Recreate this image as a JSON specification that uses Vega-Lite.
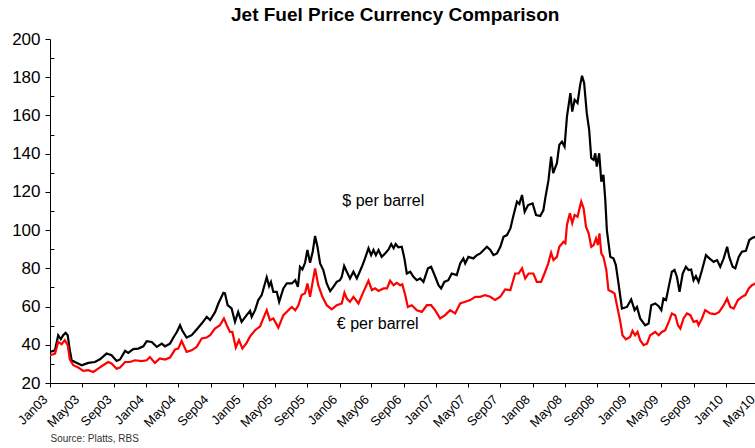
{
  "$schema": "https://vega.github.io/schema/vega-lite/v6.json",
  "autosize": {"type": "none"},
  "padding": {"left": 50, "top": 39, "right": -7, "bottom": 65},
  "width": 712,
  "height": 344,
  "background": "white",
  "config": {"view": {"stroke": null}, "font": "Liberation Sans"},
  "title": {"text": "Jet Fuel Price Currency Comparison", "fontSize": 19, "fontWeight": "bold", "font": "Liberation Sans", "color": "#000000", "frame": "group", "anchor": "start", "dx": 181, "baseline": "alphabetic", "offset": -10},
  "datasets": {
    "fuel": [
      {"series":"$ per barrel","date":"2003-01-01","price":36.3},
      {"series":"$ per barrel","date":"2003-01-20","price":37.1},
      {"series":"$ per barrel","date":"2003-02-01","price":45},
      {"series":"$ per barrel","date":"2003-02-11","price":42.9},
      {"series":"$ per barrel","date":"2003-02-20","price":45},
      {"series":"$ per barrel","date":"2003-03-01","price":46.2},
      {"series":"$ per barrel","date":"2003-03-09","price":45},
      {"series":"$ per barrel","date":"2003-03-17","price":37.1},
      {"series":"$ per barrel","date":"2003-03-24","price":31.9},
      {"series":"$ per barrel","date":"2003-04-05","price":31},
      {"series":"$ per barrel","date":"2003-05-01","price":29.3},
      {"series":"$ per barrel","date":"2003-05-26","price":30.5},
      {"series":"$ per barrel","date":"2003-06-20","price":31},
      {"series":"$ per barrel","date":"2003-07-09","price":32.4},
      {"series":"$ per barrel","date":"2003-08-03","price":35.4},
      {"series":"$ per barrel","date":"2003-08-22","price":34.5},
      {"series":"$ per barrel","date":"2003-09-10","price":31.5},
      {"series":"$ per barrel","date":"2003-09-23","price":32.3},
      {"series":"$ per barrel","date":"2003-10-12","price":36.8},
      {"series":"$ per barrel","date":"2003-10-24","price":35.7},
      {"series":"$ per barrel","date":"2003-11-12","price":37.7},
      {"series":"$ per barrel","date":"2003-12-01","price":38},
      {"series":"$ per barrel","date":"2003-12-20","price":39.2},
      {"series":"$ per barrel","date":"2004-01-02","price":41.9},
      {"series":"$ per barrel","date":"2004-01-21","price":41.5},
      {"series":"$ per barrel","date":"2004-02-09","price":38.9},
      {"series":"$ per barrel","date":"2004-02-28","price":40.6},
      {"series":"$ per barrel","date":"2004-03-11","price":39.2},
      {"series":"$ per barrel","date":"2004-03-30","price":40.6},
      {"series":"$ per barrel","date":"2004-04-12","price":43.8},
      {"series":"$ per barrel","date":"2004-04-25","price":46.7},
      {"series":"$ per barrel","date":"2004-05-07","price":50.2},
      {"series":"$ per barrel","date":"2004-05-15","price":47.6},
      {"series":"$ per barrel","date":"2004-06-01","price":43.8},
      {"series":"$ per barrel","date":"2004-06-20","price":45},
      {"series":"$ per barrel","date":"2004-07-09","price":48},
      {"series":"$ per barrel","date":"2004-07-28","price":51.1},
      {"series":"$ per barrel","date":"2004-08-16","price":54.6},
      {"series":"$ per barrel","date":"2004-08-29","price":52.9},
      {"series":"$ per barrel","date":"2004-09-17","price":57.2},
      {"series":"$ per barrel","date":"2004-09-29","price":61.6},
      {"series":"$ per barrel","date":"2004-10-18","price":67.2},
      {"series":"$ per barrel","date":"2004-10-24","price":66.9},
      {"series":"$ per barrel","date":"2004-11-03","price":60.7},
      {"series":"$ per barrel","date":"2004-11-18","price":59},
      {"series":"$ per barrel","date":"2004-12-01","price":52},
      {"series":"$ per barrel","date":"2004-12-13","price":57.2},
      {"series":"$ per barrel","date":"2004-12-26","price":52},
      {"series":"$ per barrel","date":"2005-01-14","price":55.5},
      {"series":"$ per barrel","date":"2005-01-27","price":57.7},
      {"series":"$ per barrel","date":"2005-02-02","price":54.6},
      {"series":"$ per barrel","date":"2005-02-15","price":58.1},
      {"series":"$ per barrel","date":"2005-02-27","price":63.4},
      {"series":"$ per barrel","date":"2005-03-12","price":66},
      {"series":"$ per barrel","date":"2005-03-31","price":75.3},
      {"series":"$ per barrel","date":"2005-04-09","price":70.7},
      {"series":"$ per barrel","date":"2005-04-16","price":72.9},
      {"series":"$ per barrel","date":"2005-04-25","price":67.7},
      {"series":"$ per barrel","date":"2005-05-08","price":67.7},
      {"series":"$ per barrel","date":"2005-05-17","price":62.5},
      {"series":"$ per barrel","date":"2005-06-02","price":69.5},
      {"series":"$ per barrel","date":"2005-06-15","price":72.1},
      {"series":"$ per barrel","date":"2005-07-04","price":72.1},
      {"series":"$ per barrel","date":"2005-07-17","price":73.8},
      {"series":"$ per barrel","date":"2005-07-27","price":70.3},
      {"series":"$ per barrel","date":"2005-08-04","price":80.8},
      {"series":"$ per barrel","date":"2005-08-13","price":79.4},
      {"series":"$ per barrel","date":"2005-08-23","price":82.9},
      {"series":"$ per barrel","date":"2005-09-01","price":89.6},
      {"series":"$ per barrel","date":"2005-09-11","price":82.9},
      {"series":"$ per barrel","date":"2005-09-21","price":88.7},
      {"series":"$ per barrel","date":"2005-09-30","price":96.9},
      {"series":"$ per barrel","date":"2005-10-09","price":91.3},
      {"series":"$ per barrel","date":"2005-10-19","price":82.6},
      {"series":"$ per barrel","date":"2005-10-31","price":79.1},
      {"series":"$ per barrel","date":"2005-11-13","price":72.1},
      {"series":"$ per barrel","date":"2005-11-26","price":68.1},
      {"series":"$ per barrel","date":"2005-12-08","price":70.3},
      {"series":"$ per barrel","date":"2005-12-21","price":72.9},
      {"series":"$ per barrel","date":"2006-01-02","price":73.8},
      {"series":"$ per barrel","date":"2006-01-09","price":75.6},
      {"series":"$ per barrel","date":"2006-01-18","price":81.2},
      {"series":"$ per barrel","date":"2006-01-28","price":78.2},
      {"series":"$ per barrel","date":"2006-02-09","price":74.7},
      {"series":"$ per barrel","date":"2006-02-22","price":78.2},
      {"series":"$ per barrel","date":"2006-03-07","price":74.7},
      {"series":"$ per barrel","date":"2006-03-26","price":80.8},
      {"series":"$ per barrel","date":"2006-04-07","price":85.2},
      {"series":"$ per barrel","date":"2006-04-20","price":90.5},
      {"series":"$ per barrel","date":"2006-04-30","price":86.9},
      {"series":"$ per barrel","date":"2006-05-09","price":89.6},
      {"series":"$ per barrel","date":"2006-05-18","price":86.9},
      {"series":"$ per barrel","date":"2006-05-28","price":89.6},
      {"series":"$ per barrel","date":"2006-06-09","price":86},
      {"series":"$ per barrel","date":"2006-06-22","price":87.8},
      {"series":"$ per barrel","date":"2006-07-05","price":89.9},
      {"series":"$ per barrel","date":"2006-07-15","price":92.7},
      {"series":"$ per barrel","date":"2006-07-24","price":90.5},
      {"series":"$ per barrel","date":"2006-08-01","price":92.7},
      {"series":"$ per barrel","date":"2006-08-11","price":91},
      {"series":"$ per barrel","date":"2006-08-24","price":91.3},
      {"series":"$ per barrel","date":"2006-09-03","price":85.2},
      {"series":"$ per barrel","date":"2006-09-12","price":77.3},
      {"series":"$ per barrel","date":"2006-09-25","price":78.2},
      {"series":"$ per barrel","date":"2006-10-07","price":75.6},
      {"series":"$ per barrel","date":"2006-10-20","price":73.8},
      {"series":"$ per barrel","date":"2006-11-02","price":74.7},
      {"series":"$ per barrel","date":"2006-11-14","price":72.9},
      {"series":"$ per barrel","date":"2006-12-01","price":80},
      {"series":"$ per barrel","date":"2006-12-13","price":80.8},
      {"series":"$ per barrel","date":"2006-12-26","price":76.5},
      {"series":"$ per barrel","date":"2007-01-10","price":71.2},
      {"series":"$ per barrel","date":"2007-01-20","price":69.5},
      {"series":"$ per barrel","date":"2007-02-01","price":72.9},
      {"series":"$ per barrel","date":"2007-02-16","price":73.8},
      {"series":"$ per barrel","date":"2007-03-01","price":77.3},
      {"series":"$ per barrel","date":"2007-03-20","price":76.5},
      {"series":"$ per barrel","date":"2007-04-02","price":82.6},
      {"series":"$ per barrel","date":"2007-04-14","price":85.2},
      {"series":"$ per barrel","date":"2007-04-21","price":82.6},
      {"series":"$ per barrel","date":"2007-05-03","price":86},
      {"series":"$ per barrel","date":"2007-05-22","price":85.2},
      {"series":"$ per barrel","date":"2007-06-04","price":86.9},
      {"series":"$ per barrel","date":"2007-06-17","price":87.8},
      {"series":"$ per barrel","date":"2007-06-30","price":89.6},
      {"series":"$ per barrel","date":"2007-07-12","price":91.3},
      {"series":"$ per barrel","date":"2007-07-25","price":89.6},
      {"series":"$ per barrel","date":"2007-08-06","price":86.9},
      {"series":"$ per barrel","date":"2007-08-19","price":87.8},
      {"series":"$ per barrel","date":"2007-09-01","price":91.3},
      {"series":"$ per barrel","date":"2007-09-13","price":96.5},
      {"series":"$ per barrel","date":"2007-09-26","price":97.4},
      {"series":"$ per barrel","date":"2007-10-09","price":100.9},
      {"series":"$ per barrel","date":"2007-10-21","price":107.9},
      {"series":"$ per barrel","date":"2007-11-03","price":114.9},
      {"series":"$ per barrel","date":"2007-11-12","price":113.7},
      {"series":"$ per barrel","date":"2007-11-22","price":118.4},
      {"series":"$ per barrel","date":"2007-12-02","price":109.6},
      {"series":"$ per barrel","date":"2007-12-15","price":113.1},
      {"series":"$ per barrel","date":"2008-01-01","price":114},
      {"series":"$ per barrel","date":"2008-01-14","price":107.9},
      {"series":"$ per barrel","date":"2008-01-30","price":107.4},
      {"series":"$ per barrel","date":"2008-02-11","price":110.5},
      {"series":"$ per barrel","date":"2008-02-18","price":116.7},
      {"series":"$ per barrel","date":"2008-03-01","price":126},
      {"series":"$ per barrel","date":"2008-03-11","price":138.5},
      {"series":"$ per barrel","date":"2008-03-19","price":129.8},
      {"series":"$ per barrel","date":"2008-04-02","price":135},
      {"series":"$ per barrel","date":"2008-04-11","price":144.6},
      {"series":"$ per barrel","date":"2008-04-21","price":146.3},
      {"series":"$ per barrel","date":"2008-05-01","price":143.7},
      {"series":"$ per barrel","date":"2008-05-10","price":159.4},
      {"series":"$ per barrel","date":"2008-05-23","price":171.7},
      {"series":"$ per barrel","date":"2008-05-30","price":162},
      {"series":"$ per barrel","date":"2008-06-08","price":168.2},
      {"series":"$ per barrel","date":"2008-06-19","price":166.5},
      {"series":"$ per barrel","date":"2008-06-29","price":176},
      {"series":"$ per barrel","date":"2008-07-06","price":180.8},
      {"series":"$ per barrel","date":"2008-07-14","price":177},
      {"series":"$ per barrel","date":"2008-07-24","price":161.2},
      {"series":"$ per barrel","date":"2008-08-02","price":152.5},
      {"series":"$ per barrel","date":"2008-08-10","price":137.6},
      {"series":"$ per barrel","date":"2008-08-19","price":136.7},
      {"series":"$ per barrel","date":"2008-08-25","price":140.2},
      {"series":"$ per barrel","date":"2008-08-31","price":133.2},
      {"series":"$ per barrel","date":"2008-09-09","price":140.2},
      {"series":"$ per barrel","date":"2008-09-17","price":125.4},
      {"series":"$ per barrel","date":"2008-09-25","price":128.9},
      {"series":"$ per barrel","date":"2008-10-02","price":115.8},
      {"series":"$ per barrel","date":"2008-10-08","price":100},
      {"series":"$ per barrel","date":"2008-10-21","price":86},
      {"series":"$ per barrel","date":"2008-11-02","price":85.2},
      {"series":"$ per barrel","date":"2008-11-11","price":81.7},
      {"series":"$ per barrel","date":"2008-11-21","price":72.1},
      {"series":"$ per barrel","date":"2008-12-04","price":59},
      {"series":"$ per barrel","date":"2008-12-23","price":59.8},
      {"series":"$ per barrel","date":"2009-01-08","price":63.7},
      {"series":"$ per barrel","date":"2009-01-21","price":58.1},
      {"series":"$ per barrel","date":"2009-01-30","price":59.8},
      {"series":"$ per barrel","date":"2009-02-11","price":53.8},
      {"series":"$ per barrel","date":"2009-03-02","price":50.2},
      {"series":"$ per barrel","date":"2009-03-15","price":51.1},
      {"series":"$ per barrel","date":"2009-03-25","price":60.7},
      {"series":"$ per barrel","date":"2009-04-09","price":61.6},
      {"series":"$ per barrel","date":"2009-04-22","price":60.2},
      {"series":"$ per barrel","date":"2009-05-02","price":58.1},
      {"series":"$ per barrel","date":"2009-05-10","price":64.2},
      {"series":"$ per barrel","date":"2009-05-20","price":63.4},
      {"series":"$ per barrel","date":"2009-05-30","price":70.3},
      {"series":"$ per barrel","date":"2009-06-11","price":78.2},
      {"series":"$ per barrel","date":"2009-06-21","price":79.1},
      {"series":"$ per barrel","date":"2009-06-30","price":75.6},
      {"series":"$ per barrel","date":"2009-07-10","price":67.7},
      {"series":"$ per barrel","date":"2009-07-22","price":77.3},
      {"series":"$ per barrel","date":"2009-08-03","price":80.8},
      {"series":"$ per barrel","date":"2009-08-13","price":79.1},
      {"series":"$ per barrel","date":"2009-08-23","price":79.4},
      {"series":"$ per barrel","date":"2009-09-01","price":73.8},
      {"series":"$ per barrel","date":"2009-09-10","price":75.9},
      {"series":"$ per barrel","date":"2009-09-20","price":72.9},
      {"series":"$ per barrel","date":"2009-10-03","price":79.1},
      {"series":"$ per barrel","date":"2009-10-18","price":86.9},
      {"series":"$ per barrel","date":"2009-10-31","price":85.2},
      {"series":"$ per barrel","date":"2009-11-16","price":83.4},
      {"series":"$ per barrel","date":"2009-11-29","price":84.3},
      {"series":"$ per barrel","date":"2009-12-11","price":80.8},
      {"series":"$ per barrel","date":"2009-12-24","price":85.2},
      {"series":"$ per barrel","date":"2010-01-06","price":91.3},
      {"series":"$ per barrel","date":"2010-01-14","price":86},
      {"series":"$ per barrel","date":"2010-01-27","price":80.8},
      {"series":"$ per barrel","date":"2010-02-06","price":80},
      {"series":"$ per barrel","date":"2010-02-19","price":86},
      {"series":"$ per barrel","date":"2010-03-03","price":88.7},
      {"series":"$ per barrel","date":"2010-03-18","price":89.2},
      {"series":"$ per barrel","date":"2010-03-31","price":94.8},
      {"series":"$ per barrel","date":"2010-04-12","price":96},
      {"series":"$ per barrel","date":"2010-04-24","price":96.5},
      {"series":"€ per barrel","date":"2003-01-01","price":34.5},
      {"series":"€ per barrel","date":"2003-01-20","price":35.4},
      {"series":"€ per barrel","date":"2003-02-01","price":41.5},
      {"series":"€ per barrel","date":"2003-02-14","price":40.3},
      {"series":"€ per barrel","date":"2003-02-26","price":42.4},
      {"series":"€ per barrel","date":"2003-03-09","price":39.8},
      {"series":"€ per barrel","date":"2003-03-17","price":32.3},
      {"series":"€ per barrel","date":"2003-03-30","price":29.3},
      {"series":"€ per barrel","date":"2003-04-18","price":28.1},
      {"series":"€ per barrel","date":"2003-05-07","price":26.3},
      {"series":"€ per barrel","date":"2003-05-26","price":26.7},
      {"series":"€ per barrel","date":"2003-06-14","price":25.8},
      {"series":"€ per barrel","date":"2003-07-02","price":27.5},
      {"series":"€ per barrel","date":"2003-07-21","price":29.3},
      {"series":"€ per barrel","date":"2003-08-09","price":31},
      {"series":"€ per barrel","date":"2003-08-22","price":30.2},
      {"series":"€ per barrel","date":"2003-09-10","price":27.5},
      {"series":"€ per barrel","date":"2003-09-23","price":28.1},
      {"series":"€ per barrel","date":"2003-10-12","price":31},
      {"series":"€ per barrel","date":"2003-10-31","price":31},
      {"series":"€ per barrel","date":"2003-11-18","price":31.9},
      {"series":"€ per barrel","date":"2003-12-14","price":31.5},
      {"series":"€ per barrel","date":"2004-01-02","price":31.9},
      {"series":"€ per barrel","date":"2004-01-14","price":33.6},
      {"series":"€ per barrel","date":"2004-02-02","price":30.5},
      {"series":"€ per barrel","date":"2004-02-21","price":32.8},
      {"series":"€ per barrel","date":"2004-03-11","price":32.3},
      {"series":"€ per barrel","date":"2004-03-30","price":33.3},
      {"series":"€ per barrel","date":"2004-04-18","price":37.5},
      {"series":"€ per barrel","date":"2004-04-30","price":38},
      {"series":"€ per barrel","date":"2004-05-13","price":42},
      {"series":"€ per barrel","date":"2004-06-01","price":36.3},
      {"series":"€ per barrel","date":"2004-06-20","price":37.1},
      {"series":"€ per barrel","date":"2004-07-09","price":38.9},
      {"series":"€ per barrel","date":"2004-07-28","price":43.3},
      {"series":"€ per barrel","date":"2004-08-16","price":43.8},
      {"series":"€ per barrel","date":"2004-08-29","price":45},
      {"series":"€ per barrel","date":"2004-09-16","price":48.5},
      {"series":"€ per barrel","date":"2004-10-05","price":50.2},
      {"series":"€ per barrel","date":"2004-10-20","price":53.8},
      {"series":"€ per barrel","date":"2004-10-31","price":50.2},
      {"series":"€ per barrel","date":"2004-11-12","price":46.7},
      {"series":"€ per barrel","date":"2004-11-21","price":46.7},
      {"series":"€ per barrel","date":"2004-12-04","price":38.6},
      {"series":"€ per barrel","date":"2004-12-16","price":42.4},
      {"series":"€ per barrel","date":"2004-12-29","price":38},
      {"series":"€ per barrel","date":"2005-01-14","price":41},
      {"series":"€ per barrel","date":"2005-01-27","price":44.4},
      {"series":"€ per barrel","date":"2005-02-15","price":47.6},
      {"series":"€ per barrel","date":"2005-03-06","price":49.7},
      {"series":"€ per barrel","date":"2005-03-18","price":53.8},
      {"series":"€ per barrel","date":"2005-03-31","price":58.1},
      {"series":"€ per barrel","date":"2005-04-12","price":52.9},
      {"series":"€ per barrel","date":"2005-04-25","price":53.8},
      {"series":"€ per barrel","date":"2005-05-14","price":49},
      {"series":"€ per barrel","date":"2005-06-02","price":55.5},
      {"series":"€ per barrel","date":"2005-06-21","price":58.1},
      {"series":"€ per barrel","date":"2005-07-04","price":59.8},
      {"series":"€ per barrel","date":"2005-07-17","price":58.1},
      {"series":"€ per barrel","date":"2005-07-29","price":60.7},
      {"series":"€ per barrel","date":"2005-08-10","price":66},
      {"series":"€ per barrel","date":"2005-08-23","price":66.9},
      {"series":"€ per barrel","date":"2005-09-01","price":72.1},
      {"series":"€ per barrel","date":"2005-09-11","price":65.1},
      {"series":"€ per barrel","date":"2005-09-30","price":80},
      {"series":"€ per barrel","date":"2005-10-12","price":71.2},
      {"series":"€ per barrel","date":"2005-10-27","price":65.4},
      {"series":"€ per barrel","date":"2005-11-13","price":60.7},
      {"series":"€ per barrel","date":"2005-12-02","price":58.5},
      {"series":"€ per barrel","date":"2005-12-21","price":60.7},
      {"series":"€ per barrel","date":"2006-01-09","price":61.6},
      {"series":"€ per barrel","date":"2006-01-19","price":67.2},
      {"series":"€ per barrel","date":"2006-01-28","price":64.2},
      {"series":"€ per barrel","date":"2006-02-09","price":62.5},
      {"series":"€ per barrel","date":"2006-02-22","price":65.1},
      {"series":"€ per barrel","date":"2006-03-13","price":61.6},
      {"series":"€ per barrel","date":"2006-04-01","price":67.7},
      {"series":"€ per barrel","date":"2006-04-20","price":73.5},
      {"series":"€ per barrel","date":"2006-05-03","price":68.6},
      {"series":"€ per barrel","date":"2006-05-15","price":69.5},
      {"series":"€ per barrel","date":"2006-05-28","price":68.2},
      {"series":"€ per barrel","date":"2006-06-16","price":69.5},
      {"series":"€ per barrel","date":"2006-06-29","price":69.5},
      {"series":"€ per barrel","date":"2006-07-11","price":73.5},
      {"series":"€ per barrel","date":"2006-07-24","price":71.2},
      {"series":"€ per barrel","date":"2006-08-05","price":72.4},
      {"series":"€ per barrel","date":"2006-08-18","price":71.2},
      {"series":"€ per barrel","date":"2006-08-26","price":71.7},
      {"series":"€ per barrel","date":"2006-09-06","price":66},
      {"series":"€ per barrel","date":"2006-09-16","price":59.8},
      {"series":"€ per barrel","date":"2006-10-01","price":60.7},
      {"series":"€ per barrel","date":"2006-10-20","price":58.1},
      {"series":"€ per barrel","date":"2006-11-08","price":57.2},
      {"series":"€ per barrel","date":"2006-11-27","price":60.7},
      {"series":"€ per barrel","date":"2006-12-13","price":60.7},
      {"series":"€ per barrel","date":"2006-12-28","price":58.1},
      {"series":"€ per barrel","date":"2007-01-16","price":53.8},
      {"series":"€ per barrel","date":"2007-02-04","price":55.5},
      {"series":"€ per barrel","date":"2007-02-23","price":58.1},
      {"series":"€ per barrel","date":"2007-03-14","price":56.4},
      {"series":"€ per barrel","date":"2007-04-02","price":61.6},
      {"series":"€ per barrel","date":"2007-04-21","price":62.5},
      {"series":"€ per barrel","date":"2007-05-10","price":63.4},
      {"series":"€ per barrel","date":"2007-05-29","price":65.1},
      {"series":"€ per barrel","date":"2007-06-17","price":65.1},
      {"series":"€ per barrel","date":"2007-07-05","price":66},
      {"series":"€ per barrel","date":"2007-07-25","price":65.1},
      {"series":"€ per barrel","date":"2007-08-12","price":63.4},
      {"series":"€ per barrel","date":"2007-09-01","price":65.1},
      {"series":"€ per barrel","date":"2007-09-19","price":69},
      {"series":"€ per barrel","date":"2007-10-09","price":68.6},
      {"series":"€ per barrel","date":"2007-10-27","price":77.3},
      {"series":"€ per barrel","date":"2007-11-09","price":77.3},
      {"series":"€ per barrel","date":"2007-11-22","price":80},
      {"series":"€ per barrel","date":"2007-12-04","price":74.7},
      {"series":"€ per barrel","date":"2007-12-17","price":77.3},
      {"series":"€ per barrel","date":"2008-01-04","price":77.3},
      {"series":"€ per barrel","date":"2008-01-17","price":72.9},
      {"series":"€ per barrel","date":"2008-02-02","price":72.9},
      {"series":"€ per barrel","date":"2008-02-15","price":77.3},
      {"series":"€ per barrel","date":"2008-02-29","price":82.5},
      {"series":"€ per barrel","date":"2008-03-11","price":88.2},
      {"series":"€ per barrel","date":"2008-03-20","price":84.3},
      {"series":"€ per barrel","date":"2008-04-02","price":86},
      {"series":"€ per barrel","date":"2008-04-11","price":91.3},
      {"series":"€ per barrel","date":"2008-04-27","price":93.9},
      {"series":"€ per barrel","date":"2008-05-04","price":93.1},
      {"series":"€ per barrel","date":"2008-05-10","price":102.7},
      {"series":"€ per barrel","date":"2008-05-21","price":108.8},
      {"series":"€ per barrel","date":"2008-05-30","price":103.6},
      {"series":"€ per barrel","date":"2008-06-08","price":107.9},
      {"series":"€ per barrel","date":"2008-06-19","price":107},
      {"series":"€ per barrel","date":"2008-06-25","price":110.5},
      {"series":"€ per barrel","date":"2008-07-03","price":114.9},
      {"series":"€ per barrel","date":"2008-07-12","price":111.4},
      {"series":"€ per barrel","date":"2008-07-21","price":101.8},
      {"series":"€ per barrel","date":"2008-07-31","price":98.3},
      {"series":"€ per barrel","date":"2008-08-10","price":91.3},
      {"series":"€ per barrel","date":"2008-08-19","price":92.2},
      {"series":"€ per barrel","date":"2008-08-28","price":95.7},
      {"series":"€ per barrel","date":"2008-09-04","price":92.2},
      {"series":"€ per barrel","date":"2008-09-10","price":98.3},
      {"series":"€ per barrel","date":"2008-09-17","price":87.8},
      {"series":"€ per barrel","date":"2008-09-25","price":86},
      {"series":"€ per barrel","date":"2008-10-06","price":79.1},
      {"series":"€ per barrel","date":"2008-10-14","price":68.6},
      {"series":"€ per barrel","date":"2008-10-27","price":67.7},
      {"series":"€ per barrel","date":"2008-11-06","price":66.9},
      {"series":"€ per barrel","date":"2008-11-19","price":58.1},
      {"series":"€ per barrel","date":"2008-11-28","price":52},
      {"series":"€ per barrel","date":"2008-12-06","price":45},
      {"series":"€ per barrel","date":"2008-12-19","price":42.8},
      {"series":"€ per barrel","date":"2009-01-04","price":44.1},
      {"series":"€ per barrel","date":"2009-01-13","price":47.3},
      {"series":"€ per barrel","date":"2009-01-23","price":45},
      {"series":"€ per barrel","date":"2009-02-01","price":46.7},
      {"series":"€ per barrel","date":"2009-02-11","price":42.4},
      {"series":"€ per barrel","date":"2009-02-24","price":39.8},
      {"series":"€ per barrel","date":"2009-03-09","price":40.6},
      {"series":"€ per barrel","date":"2009-03-21","price":45},
      {"series":"€ per barrel","date":"2009-04-09","price":46.7},
      {"series":"€ per barrel","date":"2009-04-22","price":45},
      {"series":"€ per barrel","date":"2009-05-04","price":46.7},
      {"series":"€ per barrel","date":"2009-05-17","price":47.6},
      {"series":"€ per barrel","date":"2009-05-30","price":52},
      {"series":"€ per barrel","date":"2009-06-11","price":56.4},
      {"series":"€ per barrel","date":"2009-06-24","price":55.5},
      {"series":"€ per barrel","date":"2009-07-04","price":50.2},
      {"series":"€ per barrel","date":"2009-07-13","price":48.5},
      {"series":"€ per barrel","date":"2009-07-25","price":53.8},
      {"series":"€ per barrel","date":"2009-08-07","price":56.4},
      {"series":"€ per barrel","date":"2009-08-20","price":55.5},
      {"series":"€ per barrel","date":"2009-09-01","price":52},
      {"series":"€ per barrel","date":"2009-09-14","price":52.5},
      {"series":"€ per barrel","date":"2009-09-20","price":50.2},
      {"series":"€ per barrel","date":"2009-10-03","price":53.8},
      {"series":"€ per barrel","date":"2009-10-15","price":58.1},
      {"series":"€ per barrel","date":"2009-11-03","price":56.4},
      {"series":"€ per barrel","date":"2009-11-22","price":56},
      {"series":"€ per barrel","date":"2009-12-07","price":57.2},
      {"series":"€ per barrel","date":"2009-12-24","price":60.7},
      {"series":"€ per barrel","date":"2010-01-06","price":64.2},
      {"series":"€ per barrel","date":"2010-01-18","price":59.8},
      {"series":"€ per barrel","date":"2010-01-31","price":59},
      {"series":"€ per barrel","date":"2010-02-16","price":63.4},
      {"series":"€ per barrel","date":"2010-03-03","price":65.1},
      {"series":"€ per barrel","date":"2010-03-16","price":66},
      {"series":"€ per barrel","date":"2010-03-29","price":69.5},
      {"series":"€ per barrel","date":"2010-04-10","price":71.2},
      {"series":"€ per barrel","date":"2010-04-24","price":72.1}
    ],
    "notes": [
      {"label": "$ per barrel", "date": "2006-06-15", "price": 115.4},
      {"label": "€ per barrel", "date": "2006-05-25", "price": 50.8}
    ]
  },
  "layer": [
    {
      "data": {"name": "fuel"},
      "mark": {"type": "line", "strokeWidth": 2.2, "clip": true},
      "encoding": {
        "x": {
          "field": "date", "type": "temporal",
          "scale": {"type": "utc", "domain": [{"year": 2003, "month": 1, "date": 1, "utc": true}, {"year": 2010, "month": 5, "date": 18, "utc": true}], "nice": false},
          "axis": {
            "values": [
              {"year": 2003, "month": 1, "date": 1, "utc": true}, {"year": 2003, "month": 5, "date": 1, "utc": true}, {"year": 2003, "month": 9, "date": 1, "utc": true},
              {"year": 2004, "month": 1, "date": 1, "utc": true}, {"year": 2004, "month": 5, "date": 1, "utc": true}, {"year": 2004, "month": 9, "date": 1, "utc": true},
              {"year": 2005, "month": 1, "date": 1, "utc": true}, {"year": 2005, "month": 5, "date": 1, "utc": true}, {"year": 2005, "month": 9, "date": 1, "utc": true},
              {"year": 2006, "month": 1, "date": 1, "utc": true}, {"year": 2006, "month": 5, "date": 1, "utc": true}, {"year": 2006, "month": 9, "date": 1, "utc": true},
              {"year": 2007, "month": 1, "date": 1, "utc": true}, {"year": 2007, "month": 5, "date": 1, "utc": true}, {"year": 2007, "month": 9, "date": 1, "utc": true},
              {"year": 2008, "month": 1, "date": 1, "utc": true}, {"year": 2008, "month": 5, "date": 1, "utc": true}, {"year": 2008, "month": 9, "date": 1, "utc": true},
              {"year": 2009, "month": 1, "date": 1, "utc": true}, {"year": 2009, "month": 5, "date": 1, "utc": true}, {"year": 2009, "month": 9, "date": 1, "utc": true},
              {"year": 2010, "month": 1, "date": 1, "utc": true}, {"year": 2010, "month": 5, "date": 1, "utc": true}
            ],
            "labelExpr": "utcFormat(datum.value, '%b%y') + '\u00a0\u00a0'",
            "labelAngle": -45,
            "labelAlign": "right",
            "labelBaseline": "bottom",
            "labelFontSize": 13,
            "labelColor": "#000000",
            "labelPadding": 15,
            "labelOverlap": false,
            "labelFlush": false,
            "labelBound": false,
            "tickSize": 4,
            "tickColor": "#000000",
            "domainColor": "#000000",
            "grid": false,
            "title": "Source: Platts, RBS",
            "titleFontSize": 10,
            "titleFontWeight": "normal",
            "titleColor": "#333333",
            "titleAnchor": "start",
            "titleAlign": "left",
            "titleBaseline": "top",
            "titleX": 0,
            "titleY": 50
          }
        },
        "y": {
          "field": "price", "type": "quantitative",
          "scale": {"domain": [20, 200], "nice": false, "zero": false},
          "axis": {
            "values": [20, 40, 60, 80, 100, 120, 140, 160, 180, 200],
            "labelFontSize": 17,
            "labelColor": "#000000",
            "labelPadding": 5,
            "tickSize": 5,
            "tickColor": "#000000",
            "domainColor": "#000000",
            "grid": false,
            "title": null
          }
        },
        "color": {
          "field": "series", "type": "nominal",
          "scale": {"domain": ["$ per barrel", "€ per barrel"], "range": ["#000000", "#ff0000"]},
          "legend": null
        }
      }
    },
    {
      "data": {"name": "notes"},
      "mark": {"type": "text", "fontSize": 16, "color": "#000000", "align": "center", "baseline": "middle"},
      "encoding": {
        "x": {"field": "date", "type": "temporal", "axis": null},
        "y": {
          "field": "price", "type": "quantitative",
          "axis": {
            "orient": "left",
            "values": [30, 50, 70, 90, 110, 130, 150, 170, 190],
            "labels": false,
            "domain": false,
            "grid": false,
            "tickSize": -4,
            "tickColor": "#000000",
            "title": null
          }
        },
        "text": {"field": "label"}
      }
    }
  ],
  "resolve": {"axis": {"x": "independent", "y": "independent"}}
}
